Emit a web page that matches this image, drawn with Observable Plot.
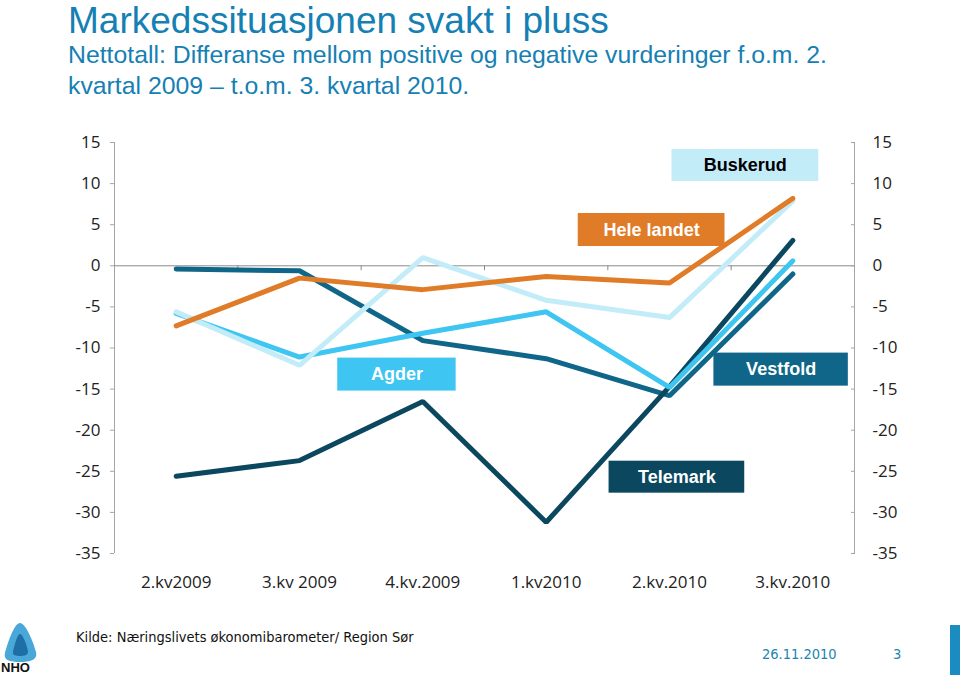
<!DOCTYPE html>
<html>
<head>
<meta charset="utf-8">
<script src="https://cdn.jsdelivr.net/npm/d3@7"></script>
<script src="https://cdn.jsdelivr.net/npm/@observablehq/plot@0.6"></script>
<style>
  html, body { margin: 0; padding: 0; background: #fff; }
  #page { position: relative; width: 960px; height: 675px; overflow: hidden; font-family: "Liberation Sans", Arial, sans-serif; }
  #title { position: absolute; left: 68px; top: 0px; font-size: 37px; line-height: normal; color: #1580b3; white-space: nowrap; }
  #subtitle { position: absolute; left: 68px; top: 39px; font-size: 24.8px; line-height: 31px; color: #1580b3; width: 800px; }
  #chart { position: absolute; left: 0; top: 120px; }
  #source { position: absolute; left: 76px; top: 629px; font-size: 14.5px; color: #111; font-family: "DejaVu Sans Condensed", "Liberation Sans", sans-serif; white-space: nowrap; }
  #date { position: absolute; left: 762px; top: 646px; font-size: 14.5px; color: #1a86b0; font-family: "DejaVu Sans Condensed", "Liberation Sans", sans-serif; }
  #pageno { position: absolute; left: 893px; top: 646px; font-size: 14.5px; color: #1a86b0; font-family: "DejaVu Sans Condensed", "Liberation Sans", sans-serif; }
  #bar { position: absolute; left: 950px; top: 625px; width: 10px; height: 50px; background: #1a8cc0; }
  #logo { position: absolute; left: 0; top: 620px; width: 42px; height: 55px; }
</style>
</head>
<body>
<div id="page">
  <div id="title">Markedssituasjonen svakt i pluss</div>
  <div id="subtitle">Nettotall: Differanse mellom positive og negative vurderinger f.o.m. 2. kvartal 2009 – t.o.m. 3. kvartal 2010.</div>
  <div id="chart"></div>
  <svg id="logo" viewBox="0 0 42 55">
    <path d="M20 3 C26 3 34 24 36 32 C38 40 30 42 20 42 C10 42 3 40 5 33 C7 25 14 3 20 3 Z" fill="#4aa8d8"/>
    <path d="M20 14 C23 14 28 28 28 32 C28 35 24 36 20 36 C16 36 12 35 13 32 C14 28 17 14 20 14 Z" fill="#1d6fa5"/>
    <text x="1" y="52" font-family="Liberation Sans, Arial, sans-serif" font-weight="bold" font-size="13" fill="#111">NHO</text>
  </svg>
  <div id="source">Kilde: Næringslivets økonomibarometer/ Region Sør</div>
  <div id="date">26.11.2010</div>
  <div id="pageno">3</div>
  <div id="bar"></div>
</div>
<script>
// ---- data ----
const quarters = ["2.kv2009", "3.kv 2009", "4.kv.2009", "1.kv2010", "2.kv.2010", "3.kv.2010"];
const heleLandet = [-7.3, -1.5, -2.9, -1.3, -2.1, 8.2];
const buskerud   = [-5.6, -12.1, 1.0, -4.2, -6.3, 7.9];
const agder      = [-5.8, -11.1, -8.2, -5.6, -14.8, 0.6];
const vestfold   = [-0.4, -0.6, -9.1, -11.3, -15.8, -1.0];
const telemark   = [-25.6, -23.7, -16.5, -31.2, -14.7, 3.1];
const seriesNames = ["Vestfold", "Telemark", "Agder", "Buskerud", "Hele landet"];
const seriesValues = [vestfold, telemark, agder, buskerud, heleLandet];
const yTicks = [15, 10, 5, 0, -5, -10, -15, -20, -25, -30, -35];

// ---- styling ----
const colors = {
  "Hele landet": "#e07b27",
  "Buskerud": "#c3ecf9",
  "Agder": "#3ec5f1",
  "Vestfold": "#0f6689",
  "Telemark": "#0b475f"
};
const labelText = { "Buskerud": "#000", "Hele landet": "#fff", "Agder": "#fff", "Vestfold": "#fff", "Telemark": "#fff" };
// label boxes in data units (x: quarter index, y: value)
const labels = [
  { name: "Buskerud",    x1: 4.02, x2: 5.21, y1: 10.26, y2: 14.15 },
  { name: "Hele landet", x1: 3.26, x2: 4.45, y1: 2.35,  y2: 6.36 },
  { name: "Agder",       x1: 1.31, x2: 2.27, y1: -15.24, y2: -11.23 },
  { name: "Vestfold",    x1: 4.36, x2: 5.45, y1: -14.64, y2: -10.62 },
  { name: "Telemark",    x1: 3.51, x2: 4.61, y1: -27.66, y2: -23.77 }
];

const rows = [];
seriesNames.forEach((name, s) => {
  seriesValues[s].forEach((v, i) => rows.push({ series: name, i, value: v }));
});
const idx = quarters.map((q, i) => i);
const fmtY = d => String(d);

const chart = Plot.plot({
  width: 960,
  height: 480,
  marginTop: 22,
  marginBottom: 47,
  marginLeft: 114,
  marginRight: 106,
  style: { fontFamily: "'Open Sans', sans-serif", fontSize: "17px", color: "#222" },
  x: { type: "linear", domain: [-0.5, 5.5], axis: null },
  y: { domain: [-35, 15], axis: null },
  marks: [
    Plot.ruleX([-0.5, 5.5], { y1: -35, y2: 15, stroke: "#a6a6a6", strokeWidth: 1 }),
    Plot.ruleY([0], { stroke: "#8a8a8a", strokeWidth: 1 }),
    Plot.ruleX([0.5, 1.5, 2.5, 3.5, 4.5], { y1: 0, y2: -0.6, stroke: "#8a8a8a" }),
    Plot.axisY({ anchor: "left", ticks: yTicks, tickSize: 4, tickPadding: 10, tickFormat: fmtY, stroke: "#a6a6a6", fill: "#222", fontSize: 17 }),
    Plot.axisY({ anchor: "right", ticks: yTicks, tickSize: -4, tickPadding: 22, tickFormat: fmtY, stroke: "#a6a6a6", fill: "#222", fontSize: 17 }),
    Plot.axisX({ anchor: "bottom", ticks: idx, tickSize: 0, tickPadding: 22, tickFormat: i => quarters[i], fill: "#222", fontSize: 17 }),
    Plot.line(rows, { x: "i", y: "value", z: "series", stroke: d => colors[d.series], strokeWidth: 5, strokeLinejoin: "miter", strokeLinecap: "round" }),
    Plot.rect(labels, { x1: "x1", x2: "x2", y1: "y1", y2: "y2", fill: d => colors[d.name] }),
    Plot.text(labels, { x: d => (d.x1 + d.x2) / 2, y: d => (d.y1 + d.y2) / 2, text: "name", fill: d => labelText[d.name], fontFamily: "'Liberation Sans', Arial, sans-serif", fontWeight: "bold", fontSize: 18 })
  ]
});
document.getElementById("chart").appendChild(chart);
</script>
</body>
</html>
